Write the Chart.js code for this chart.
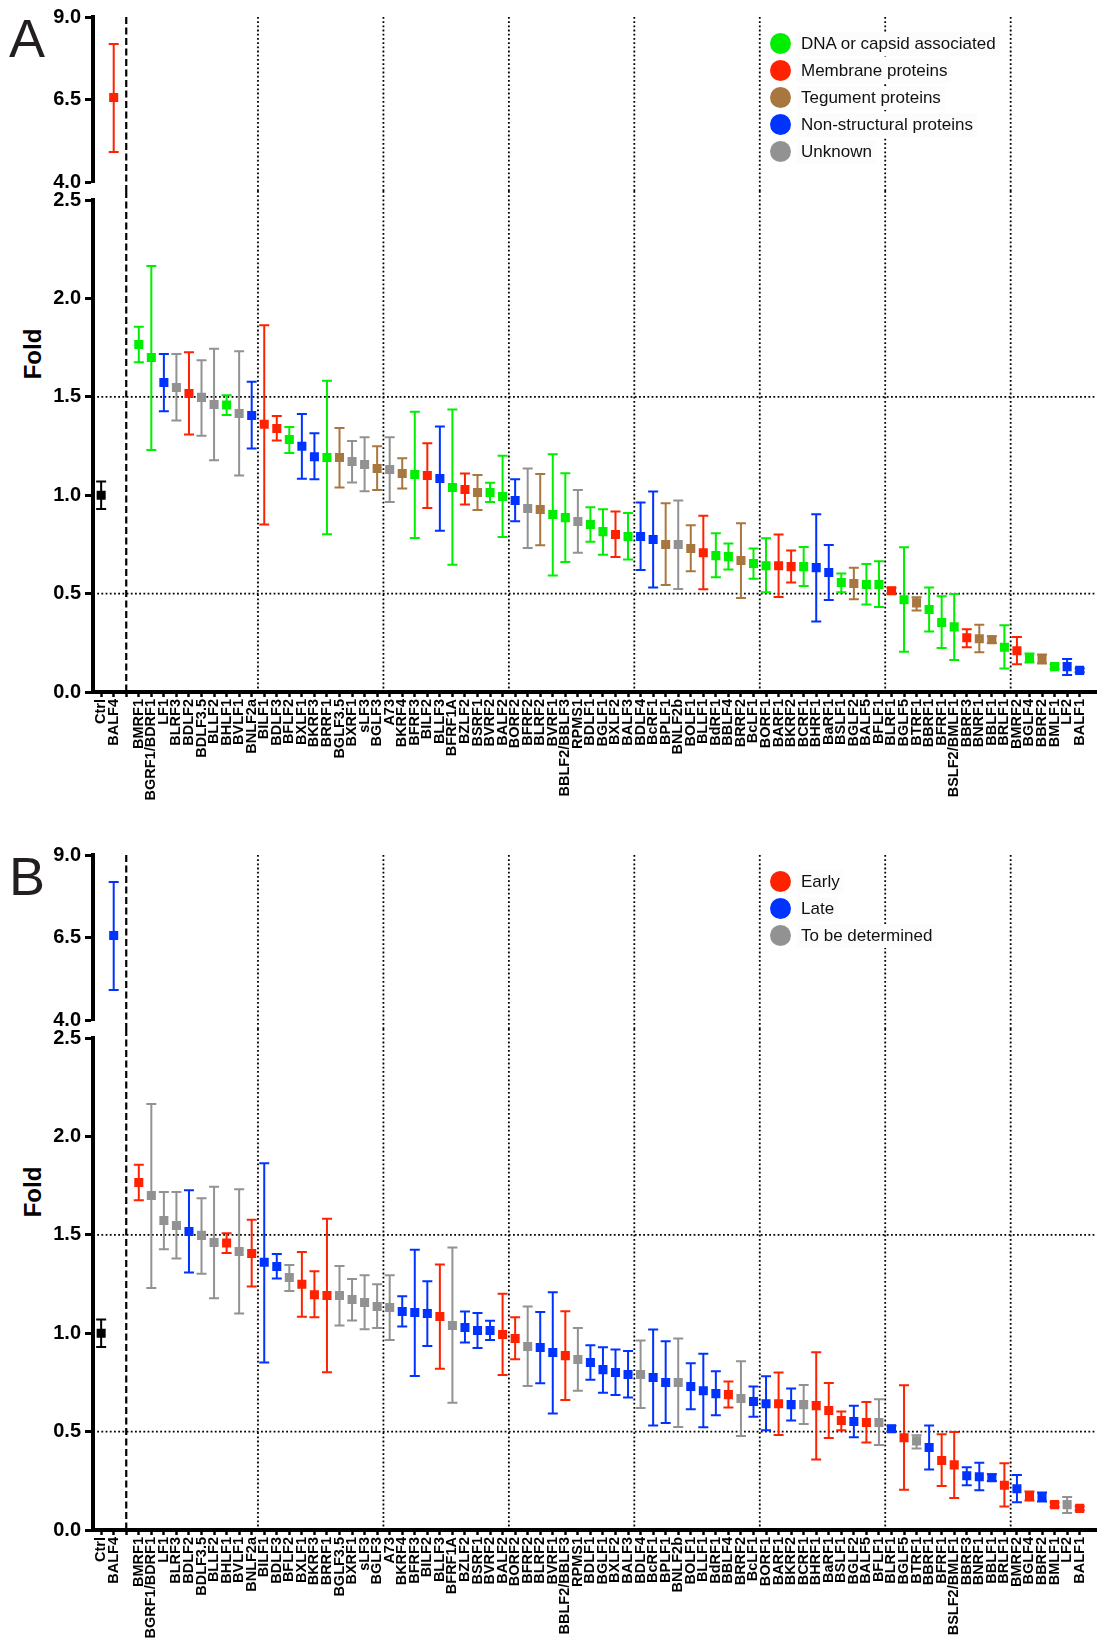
<!DOCTYPE html>
<html>
<head>
<meta charset="utf-8">
<script src="https://cdn.jsdelivr.net/npm/chart.js@4.4.0/dist/chart.umd.min.js"></script>
<style>
body{margin:0;background:#fff;width:1103px;height:1641px;overflow:hidden;position:relative;font-family:"Liberation Sans",Arial,sans-serif}
canvas{position:absolute;left:0}
.letter{position:absolute;left:9px;font-size:54px;line-height:1;color:#231f20}
.fold{position:absolute;left:33px;font-size:24px;font-weight:bold;white-space:nowrap;transform:translate(-50%,-50%) rotate(-90deg)}
.legend{position:absolute;left:770px}
.legend div{height:27px;display:flex;align-items:center;font-size:17px;color:#111}
.legend span{width:21px;height:21px;border-radius:50%;margin-right:6px}
.legend b{font-weight:normal;background:#fcfcfc;padding:2px 4px}
</style>
</head>
<body>

<div class="letter" style="top:11px">A</div>
<div class="fold" style="top:354px">Fold</div>
<canvas id="aUpper" width="1103" height="191" style="top:0px"></canvas>
<canvas id="aLower" width="1103" height="611" style="top:191px"></canvas>
<div class="legend" style="top:30px">
  <div><span style="background:#00ee00"></span><b>DNA or capsid associated</b></div>
  <div><span style="background:#ff2200"></span><b>Membrane proteins</b></div>
  <div><span style="background:#a8773f"></span><b>Tegument proteins</b></div>
  <div><span style="background:#0033ff"></span><b>Non-structural proteins</b></div>
  <div><span style="background:#929292"></span><b>Unknown</b></div>
</div>

<div class="letter" style="top:849px">B</div>
<div class="fold" style="top:1192px">Fold</div>
<canvas id="bUpper" width="1103" height="191" style="top:838px"></canvas>
<canvas id="bLower" width="1103" height="611" style="top:1029px"></canvas>
<div class="legend" style="top:868px">
  <div><span style="background:#ff2200"></span><b>Early</b></div>
  <div><span style="background:#0033ff"></span><b>Late</b></div>
  <div><span style="background:#929292"></span><b>To be determined</b></div>
</div>

<script>
Chart.defaults.font.family = "'Liberation Sans', Arial, sans-serif";

// '' marks the empty slot where the dashed separator sits
const genes = ['Ctrl','BALF4','',
  'BMRF1','BGRF1/BDRF1','LF1','BLRF3','BDLF2','BDLF3.5','BLLF2','BHLF1','BVLF1','BNLF2a',
  'BILF1','BDLF3','BFLF2','BXLF1','BKRF3','BRRF1','BGLF3.5','BXRF1','sLF3','BGLF3',
  'A73','BKRF4','BFRF3','BILF2','BLLF3','BFRF1A','BZLF2','BSRF1','BVRF2','BALF2',
  'BORF2','BFRF2','BLRF2','BVRF1','BBLF2/BBLF3','RPMS1','BDLF1','BGLF1','BXLF2','BALF3',
  'BDLF4','BcRF1','BPLF1','BNLF2b','BOLF1','BLLF1','BdRF1','BBLF4','BRRF2','BcLF1',
  'BORF1','BARF1','BKRF2','BCRF1','BHRF1','BaRF1','BSLF1','BGLF2','BALF5','BFLF1',
  'BLRF1','BGLF5','BTRF1','BBRF1','BFRF1','BSLF2/BMLF1','BBRF3','BNRF1','BBLF1','BRLF1',
  'BMRF2','BGLF4','BBRF2','BMLF1','LF2','BALF1'];

const fold = [1.00, 6.56, null,
  1.766, 1.70, 1.573, 1.547, 1.517, 1.497, 1.461, 1.458, 1.415, 1.405,
  1.361, 1.339, 1.283, 1.249, 1.195, 1.192, 1.192, 1.171, 1.156, 1.136,
  1.131, 1.11, 1.105, 1.10, 1.085, 1.039, 1.029, 1.014, 1.014, 0.993,
  0.973, 0.932, 0.927, 0.902, 0.886, 0.866, 0.851, 0.815, 0.80, 0.79,
  0.79, 0.775, 0.749, 0.749, 0.729, 0.708, 0.693, 0.688, 0.668, 0.653,
  0.642, 0.642, 0.637, 0.637, 0.632, 0.607, 0.556, 0.551, 0.546, 0.546,
  0.514, 0.469, 0.453, 0.419, 0.353, 0.331, 0.276, 0.271, 0.266, 0.227,
  0.21, 0.173, 0.168, 0.129, 0.129, 0.11];

const errHi = [1.07, 8.18, null,
  1.856, 2.165, 1.717, 1.717, 1.727, 1.686, 1.744, 1.508, 1.732, 1.576,
  1.864, 1.403, 1.347, 1.412, 1.315, 1.581, 1.342, 1.275, 1.295, 1.249,
  1.295, 1.188, 1.424, 1.264, 1.349, 1.436, 1.11, 1.103, 1.063, 1.20,
  1.081, 1.136, 1.108, 1.208, 1.112, 1.027, 0.939, 0.929, 0.917, 0.91,
  0.963, 1.019, 0.959, 0.973, 0.847, 0.895, 0.807, 0.754, 0.858, 0.729,
  0.781, 0.80, 0.719, 0.737, 0.903, 0.747, 0.602, 0.631, 0.651, 0.664,
  0.53, 0.736, 0.481, 0.531, 0.486, 0.498, 0.319, 0.342, 0.283, 0.339,
  0.28, 0.195, 0.19, 0.14, 0.168, 0.12];

const errLo = [0.93, 4.91, null,
  1.675, 1.23, 1.427, 1.38, 1.308, 1.302, 1.178, 1.407, 1.10, 1.237,
  0.851, 1.278, 1.215, 1.083, 1.081, 0.802, 1.039, 1.064, 1.02, 1.027,
  0.966, 1.034, 0.783, 0.935, 0.819, 0.647, 0.953, 0.925, 0.966, 0.788,
  0.868, 0.732, 0.746, 0.592, 0.661, 0.708, 0.763, 0.698, 0.686, 0.673,
  0.62, 0.531, 0.544, 0.524, 0.614, 0.522, 0.583, 0.622, 0.478, 0.575,
  0.507, 0.483, 0.556, 0.539, 0.358, 0.468, 0.507, 0.471, 0.444, 0.432,
  0.50, 0.205, 0.414, 0.307, 0.224, 0.163, 0.227, 0.202, 0.249, 0.119,
  0.141, 0.15, 0.145, 0.118, 0.086, 0.10];

// A: C ctrl, D DNA/capsid, M membrane, T tegument, N non-structural, U unknown
const groupA = ['C','M',null,
  'D','D','N','U','M','U','U','D','U','N',
  'M','M','D','N','N','D','T','U','U','T',
  'U','T','D','M','N','D','M','T','D','D',
  'N','U','T','D','D','U','D','D','M','D',
  'N','N','T','U','T','M','D','D','T','D',
  'D','M','M','D','N','N','D','T','D','D',
  'M','D','T','D','D','D','M','T','T','D',
  'M','D','T','D','N','N'];

// B: C ctrl, E early, L late, U to be determined
const groupB = ['C','L',null,
  'E','U','U','U','L','U','U','E','U','E',
  'L','L','U','E','E','E','U','U','U','U',
  'U','L','L','L','E','U','L','L','L','E',
  'E','U','L','L','E','U','L','L','L','L',
  'U','L','L','U','L','L','L','E','U','L',
  'L','E','L','U','E','E','E','L','E','U',
  'L','E','U','L','E','E','L','L','L','E',
  'L','E','L','E','U','E'];

const colorsA = {C:'#000000', D:'#00ee00', M:'#ff2200', T:'#a8773f', N:'#0033ff', U:'#929292'};
const colorsB = {C:'#000000', E:'#ff2200', L:'#0033ff', U:'#929292'};

const refLines = [0.5, 1.5];

/* ===========================
   GUIDE LINES
=========================== */

const guides = {
  id: 'guides',
  beforeDatasetsDraw(chart, args, opts) {
    const {ctx, chartArea: a, scales: {x, y}} = chart;
    const top = opts.upper ? a.top : 0;
    const bottom = opts.upper ? chart.height : a.bottom;
    const gap = genes.indexOf('');
    ctx.save();
    ctx.strokeStyle = '#000';
    ctx.lineWidth = 1.8;
    ctx.setLineDash([1.8, 2.4]);
    ctx.beginPath();
    if (!opts.upper) {
      refLines.forEach(v => {
        const py = y.getPixelForValue(v);
        ctx.moveTo(a.left, py);
        ctx.lineTo(a.right, py);
      });
    }
    // a dotted divider every ten genes
    for (let i = gap + 11; i < genes.length; i += 10) {
      const px = x.getPixelForValue(i - 0.5);
      ctx.moveTo(px, top);
      ctx.lineTo(px, bottom);
    }
    ctx.stroke();
    ctx.lineWidth = 2.2;
    ctx.setLineDash([7, 3.5]);
    ctx.beginPath();
    const gx = x.getPixelForValue(gap);
    ctx.moveTo(gx, top);
    ctx.lineTo(gx, bottom);
    ctx.stroke();
    ctx.restore();
  }
};

/* ===========================
   ERROR BARS
=========================== */

const errorBars = {
  id: 'errorBars',
  beforeDatasetsDraw(chart) {
    const {ctx, scales: {y}} = chart;
    chart.data.datasets.forEach((ds, di) => {
      const meta = chart.getDatasetMeta(di);
      meta.data.forEach((pt, i) => {
        const d = ds.data[i];
        const yHi = y.getPixelForValue(d.hi);
        const yLo = y.getPixelForValue(d.lo);
        ctx.save();
        ctx.strokeStyle = d.c;
        ctx.lineWidth = 2;
        ctx.beginPath();
        ctx.moveTo(pt.x, yHi); ctx.lineTo(pt.x, yLo);
        ctx.moveTo(pt.x - 5, yHi); ctx.lineTo(pt.x + 5, yHi);
        ctx.moveTo(pt.x - 5, yLo); ctx.lineTo(pt.x + 5, yLo);
        ctx.stroke();
        ctx.restore();
      });
    });
  }
};

function config(points, upper) {
  return {
    type: 'scatter',
    data: {
      datasets: [{
        data: points,
        pointStyle: 'rect',
        pointRadius: 6.4,
        pointBorderWidth: 0,
        pointBackgroundColor: c => c.raw ? c.raw.c : '#000'
      }]
    },
    options: {
      responsive: false,
      animation: false,
      events: [],
      layout: {padding: upper ? {top: 17, bottom: 9, left: 0, right: 0} : {top: 9, bottom: 0, left: 0, right: 0}},
      plugins: {legend: {display: false}, tooltip: {enabled: false}, guides: {upper: upper}},
      scales: {
        x: {
          type: 'linear',
          min: -0.65,
          max: genes.length + 0.35,
          display: !upper,
          afterBuildTicks: s => { s.ticks = genes.map((g, i) => ({value: i})); },
          afterFit: s => {
            if (upper) return;
            s.height = 110; s.paddingLeft = 0; s.paddingRight = 0;
          },
          border: {color: '#000', width: 4},
          grid: {drawOnChartArea: false, tickLength: 5, tickWidth: 2.5, tickColor: '#000'},
          ticks: {
            autoSkip: false, maxRotation: 90, minRotation: 90, padding: 2, color: '#000',
            font: {size: 14.5, weight: 'bold'},
            callback: v => genes[v]
          }
        },
        y: {
          min: upper ? 4 : 0,
          max: upper ? 9 : 2.5,
          afterFit: s => { s.width = 93; s.paddingTop = 0; s.paddingBottom = 0; },
          border: {color: '#000', width: 4},
          grid: {drawOnChartArea: false, tickLength: 8, tickWidth: 3, tickColor: '#000'},
          ticks: {
            stepSize: upper ? 2.5 : 0.5, padding: 4, color: '#000',
            font: {size: 20, weight: 'bold', lineHeight: 0.9},
            callback: v => v.toFixed(1)
          }
        }
      }
    },
    plugins: [guides, errorBars]
  };
}

function buildPanel(prefix, groups, palette) {
  const points = [];
  genes.forEach((g, i) => {
    if (fold[i] == null) return;
    points.push({x: i, y: fold[i], hi: errHi[i], lo: errLo[i], c: palette[groups[i]]});
  });
  new Chart(document.getElementById(prefix + 'Upper'), config(points.filter(p => p.y >= 4), true));
  new Chart(document.getElementById(prefix + 'Lower'), config(points.filter(p => p.y < 4), false));
}

buildPanel('a', groupA, colorsA);
buildPanel('b', groupB, colorsB);
</script>
</body>
</html>
